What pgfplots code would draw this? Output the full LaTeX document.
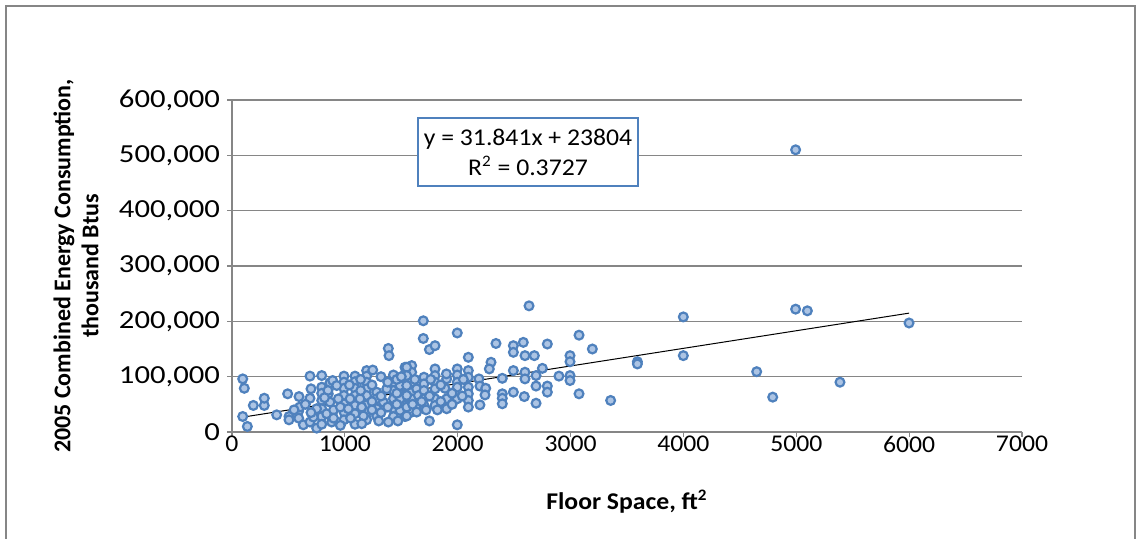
\documentclass[border=0pt]{standalone}
\usepackage{fontspec}
\setmainfont[FakeStretch=1.07]{Carlito}
\newfontfamily\yfont{Carlito}
\newfontfamily\ytickfont[FakeStretch=1.18]{Carlito}
\usepackage{pgfplots}
\pgfplotsset{compat=1.18}
\definecolor{ptedge}{RGB}{79,129,189}
\definecolor{ptfill}{RGB}{172,196,228}
\definecolor{gridgray}{RGB}{134,134,134}

\begin{document}
\begin{tikzpicture}
\useasboundingbox (-116pt,-53.5pt) rectangle (453pt,216pt);
\draw[gridgray, line width=0.7pt] (-113pt,-60pt) -- (-113pt,213pt) -- (451.5pt,213pt) -- (451.5pt,-60pt);
\begin{axis}[
  scale only axis, width=395pt, height=166pt,
  xmin=0, xmax=7000, ymin=0, ymax=600000,
  xtick={0,1000,...,7000}, ytick={0,100000,...,600000},
  axis lines*=left, axis line style={-, gridgray, line width=0.6pt},
  tick align=outside, major tick length=2.5pt,
  tick style={gridgray, line width=0.6pt},
  ymajorgrids, grid style={gridgray, line width=0.6pt},
  scaled y ticks=false,
  /pgf/number format/assume math mode=true,
  tick label style={text=black},
  x tick label style={/pgf/number format/1000 sep={}, font=\fontsize{12}{14}\selectfont, yshift=4pt},
  y tick label style={/pgf/number format/.cd, fixed, 1000 sep={,}, /tikz/font=\ytickfont\fontsize{13}{15}\selectfont},
  xlabel={Floor Space, ft\textsuperscript{2}},
  xlabel style={font=\bfseries\fontsize{12}{14}\selectfont, at={(axis description cs:0.5,-0.21)}, anchor=center},
  ylabel={2005 Combined Energy Consumption,\\thousand Btus},
  ylabel style={font=\yfont\bfseries\fontsize{12}{14}\selectfont, align=center, at={(axis description cs:-0.1975,0.5)}, anchor=center},
]
\addplot[only marks, mark=*, mark size=2.2pt,
  mark options={draw=ptedge, fill=ptfill, line width=1.1pt}]
coordinates {
(95,96000) (109,79000) (95,28000) (136,10000) (189,48000) (286,48000) (286,61000)
(396,31000) (493,69000) (505,28000) (505,22000) (594,64000) (591,38000) (591,25000)
(632,13000) (691,101000) (795,102000) (691,61000) (691,18000) (750,7000) (795,81000)
(795,70000) (795,57000) (795,42000) (795,28000) (795,14000) (750,42000) (721,27000)
(868,89000) (892,93000) (853,69000) (868,54000) (839,33000) (883,18000) (992,101000)
(992,90000) (992,79000) (992,66000) (992,51000) (992,36000) (992,22000) (928,84000)
(942,60000) (600,45000) (700,35000) (650,50000) (900,40000) (900,25000) (850,75000)
(550,40000) (700,78000) (820,62000) (960,45000) (960,12000)
(1090,101000) (1090,91000) (1090,79000) (1090,66000) (1090,48000) (1090,33000) (1090,14000)
(1046,60000) (1031,42000) (1193,111000) (1193,101000) (1193,90000) (1193,78000) (1193,66000)
(1193,49000) (1193,36000) (1193,22000) (1247,112000) (1134,60000) (1149,45000) (1164,29000)
(1282,72000) (1282,60000) (1282,42000) (1282,29000) (1385,151000) (1391,138000) (1430,103000)
(1430,90000) (1430,75000) (1430,60000) (1430,42000) (1430,28000) (1371,78000) (1341,54000)
(1385,18000) (1533,117000) (1533,105000) (1533,93000) (1533,81000) (1533,66000) (1533,48000)
(1533,28000) (1592,120000) (1592,108000) (1592,90000) (1592,72000) (1592,60000) (1592,36000)
(1489,84000) (1489,60000) (1489,39000) (1636,78000) (1636,48000) (1548,117000) (1548,102000)
(1548,84000) (1548,66000) (1548,45000) (1548,29000) (1636,36000) (1651,66000)
(1040,85000) (1140,95000) (1140,75000) (1240,85000) (1240,55000) (1240,40000) (1320,100000)
(1320,65000) (1320,35000) (1460,95000) (1460,70000) (1460,50000) (1500,100000) (1380,90000)
(1380,45000) (1600,50000) (1620,95000) (1050,25000) (1150,15000) (1300,20000) (1470,20000)
(1695,201000) (1695,169000) (1749,149000) (1799,156000) (1996,179000) (1701,99000) (1701,87000)
(1701,75000) (1701,60000) (1701,48000) (1749,20000) (1799,114000) (1799,102000) (1799,90000)
(1799,78000) (1799,60000) (1799,48000) (1902,96000) (1887,79000) (1902,60000) (1902,42000)
(1996,114000) (1996,103000) (1996,90000) (1996,81000) (1996,60000) (1996,13000) (2094,135000)
(2094,111000) (2094,99000) (2094,81000) (2094,69000) (2094,57000) (2094,45000) (1750,65000)
(1850,85000) (1850,55000) (1950,70000) (1950,50000) (1720,40000) (2050,95000) (1760,95000)
(1820,40000) (1680,55000) (1900,105000) (2040,65000)
(2188,96000) (2197,83000) (2248,79000) (2242,67000) (2197,49000) (2295,126000) (2280,114000)
(2339,160000) (2395,97000) (2395,69000) (2395,61000) (2395,51000) (2493,156000) (2493,144000)
(2493,111000) (2493,72000) (2581,162000) (2596,138000) (2679,138000) (2596,108000) (2596,96000)
(2590,64000) (2632,228000) (2694,102000) (2694,83000) (2694,52000) (2750,115000) (2794,159000)
(2794,83000) (2794,72000) (2897,101000) (2995,138000) (2995,127000) (2995,102000) (2995,93000)
(3075,175000) (3075,69000) (3193,150000)
(3355,57000) (3592,127000) (3592,123000) (3999,208000) (3999,138000) (4649,109000) (4791,63000)
(4994,510000) (4994,222000) (5098,219000) (5999,197000) (5387,90000)
};
\addplot[black, line width=0.5pt, no marks] coordinates {(95,26829) (6000,214850)};
\node[draw=ptedge, line width=0.7pt, fill=white, align=center,
  font=\fontsize{12}{15}\selectfont, minimum width=110pt, minimum height=34pt, inner sep=2pt]
  at (axis cs:2623,506000) {y = 31.841x + 23804\\R\textsuperscript{2} = 0.3727};
\end{axis}
\end{tikzpicture}
\end{document}
